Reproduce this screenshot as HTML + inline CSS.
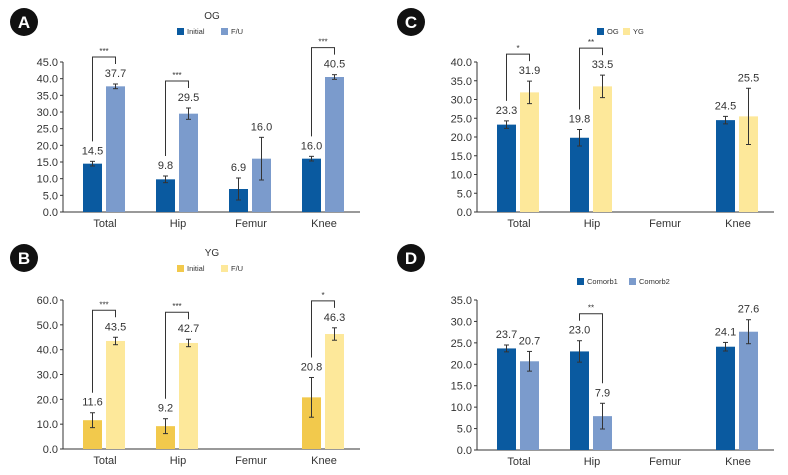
<!DOCTYPE html>
<html><head><meta charset="utf-8"><style>
body{margin:0;background:#fff;}
svg{display:block;font-family:"Liberation Sans",sans-serif;}
</style></head><body>
<svg id="chart" width="788" height="475" viewBox="0 0 788 475"></svg>
<script>
const categories = ["Total","Hip","Femur","Knee"];
const aInitial = [14.5, 9.8, 6.9, 16.0];
const aFU = [37.7, 29.5, 16.0, 40.5];
const aInitialErr = [0.7, 1.0, 3.3, 0.7];
const aFUErr = [0.7, 1.7, 6.4, 0.7];
const aTicks = [0,5,10,15,20,25,30,35,40,45];
const bInitial = [11.6, 9.2, null, 20.8];
const bFU = [43.5, 42.7, null, 46.3];
const bInitialErr = [3.0, 3.0, 0, 8.0];
const bFUErr = [1.5, 1.5, 0, 2.5];
const bTicks = [0,10,20,30,40,50,60];
const cOG = [23.3, 19.8, null, 24.5];
const cYG = [31.9, 33.5, null, 25.5];
const cOGErr = [1.0, 2.2, 0, 1.0];
const cYGErr = [3.0, 3.0, 0, 7.5];
const cTicks = [0,5,10,15,20,25,30,35,40];
const dC1 = [23.7, 23.0, null, 24.1];
const dC2 = [20.7, 7.9, null, 27.6];
const dC1Err = [0.8, 2.5, 0, 1.0];
const dC2Err = [2.3, 3.0, 0, 2.8];
const dTicks = [0,5,10,15,20,25,30,35];

const NS="http://www.w3.org/2000/svg";
const svg=document.getElementById('chart');
function mk(tag,attrs,parent,text){const e=document.createElementNS(NS,tag);for(const k in attrs)e.setAttribute(k,attrs[k]);if(text!==undefined)e.textContent=text;(parent||svg).appendChild(e);return e;}

function panel(o){
  const g=mk('g',{});
  
  
  const max=o.ticks[o.ticks.length-1];
  const y=v=>o.y0-(v/max)*(o.y0-o.yTop);
  const xc=i=>o.x0+42+i*73;
  const bd=mk('g',{},g);
  
  
  mk('circle',{cx:o.bx,cy:o.by,r:14,fill:'#111'},bd);
  mk('text',{x:o.bx,y:o.by+6,'text-anchor':'middle','font-size':17,'font-weight':'bold',fill:'#fff'},bd,o.letter);
  if(o.title){const t=mk('text',{x:o.lx,y:o.titleY,'text-anchor':'middle','font-size':10,fill:'#333'},g,o.title);
    }
  const lg=mk('g',{},g);
  
  
  let lx=o.lx-o.legW/2;
  o.series.forEach((s,k)=>{
    const le=mk('g',{},lg);
    
    
    mk('rect',{x:lx,y:o.legY-6,width:7,height:7,fill:s.color},le);
    mk('text',{x:lx+10,y:o.legY,'font-size':7.5,fill:'#333'},le,s.label);
    lx+=o.legGap[k];
  });
  const ax=mk('g',{},g);
  
  
  mk('line',{x1:o.x0,y1:o.yTop,x2:o.x0,y2:o.y0,stroke:'#333','stroke-width':1},ax);
  o.ticks.forEach(t=>{
    mk('line',{x1:o.x0-3,y1:y(t),x2:o.x0,y2:y(t),stroke:'#333'},ax);
    mk('text',{x:o.x0-5,y:y(t)+4,'text-anchor':'end','font-size':11,fill:'#333'},ax,t.toFixed(1));
  });
  const xa=mk('g',{},g);
  
  
  mk('line',{x1:o.x0,y1:o.y0,x2:o.x0+297,y2:o.y0,stroke:'#333'},xa);
  categories.forEach((c,i)=>{
    mk('text',{x:xc(i),y:o.y0+15,'text-anchor':'middle','font-size':11,fill:'#333'},xa,c);
  });
  const labY=(k,i)=>{const v=o.series[k].vals[i],e=o.series[k].err[i];return Math.min(y(v+e),y(v))-7;};
  o.series.forEach((s,k)=>{
    s.vals.forEach((v,i)=>{
      if(v===null)return;
      const bx=xc(i)+(k===0?-22:1);
      const r=mk('rect',{x:bx,y:y(v),width:19,height:o.y0-y(v),fill:s.color},g);
      
      
      const cx=bx+9.5,e=s.err[i];
      const eb=mk('g',{},g);
      
      
      mk('line',{x1:cx,y1:y(v+e),x2:cx,y2:y(v-e),stroke:'#333','stroke-width':1},eb);
      mk('line',{x1:cx-2.5,y1:y(v+e),x2:cx+2.5,y2:y(v+e),stroke:'#333'},eb);
      mk('line',{x1:cx-2.5,y1:y(v-e),x2:cx+2.5,y2:y(v-e),stroke:'#333'},eb);
      const lt=mk('text',{x:cx,y:labY(k,i),'text-anchor':'middle','font-size':11,fill:'#333'},g,v.toFixed(1));
      
      
    });
  });
  (o.sig||[]).forEach(sg=>{
    const i=sg.i;
    const x1=xc(i)-12.5,x2=xc(i)+10.5;
    const l1=labY(0,i),l2=labY(1,i);
    const ty=Math.min(l1,l2)-20;
    const sgG=mk('g',{},g);
    
    
    mk('polyline',{points:`${x1},${l1-13} ${x1},${ty} ${x2},${ty} ${x2},${l2-13}`,fill:'none',stroke:'#333','stroke-width':1},sgG);
    mk('text',{x:(x1+x2)/2,y:ty-3,'text-anchor':'middle','font-size':8,fill:'#333'},sgG,sg.s);
  });
}
const dB='#0a5aa0',lB='#7b9bcc',dY='#f2c94c',lY='#fde89a';
panel({name:'panel-a',letter:'A',bx:24,by:22,title:'OG',titleY:19,lx:212,legY:34,legW:70,legGap:[44],x0:63,y0:212,yTop:62,ticks:aTicks,
  series:[{label:'Initial',color:dB,vals:aInitial,err:aInitialErr},{label:'F/U',color:lB,vals:aFU,err:aFUErr}],
  sig:[{i:0,s:'***'},{i:1,s:'***'},{i:3,s:'***'}]});
panel({name:'panel-b',letter:'B',bx:24,by:258,title:'YG',titleY:256,lx:212,legY:271,legW:70,legGap:[44],x0:63,y0:449,yTop:300,ticks:bTicks,
  series:[{label:'Initial',color:dY,vals:bInitial,err:bInitialErr},{label:'F/U',color:lY,vals:bFU,err:bFUErr}],
  sig:[{i:0,s:'***'},{i:1,s:'***'},{i:3,s:'*'}]});
panel({name:'panel-c',letter:'C',bx:411,by:22,title:null,lx:622,legY:34,legW:50,legGap:[26],x0:477,y0:212,yTop:62,ticks:cTicks,
  series:[{label:'OG',color:dB,vals:cOG,err:cOGErr},{label:'YG',color:lY,vals:cYG,err:cYGErr}],
  sig:[{i:0,s:'*'},{i:1,s:'**'}]});
panel({name:'panel-d',letter:'D',bx:411,by:258,title:null,lx:625,legY:284,legW:96,legGap:[52],x0:477,y0:450,yTop:300,ticks:dTicks,
  series:[{label:'Comorb1',color:dB,vals:dC1,err:dC1Err},{label:'Comorb2',color:lB,vals:dC2,err:dC2Err}],
  sig:[{i:1,s:'**'}]});
</script>
</body></html>
